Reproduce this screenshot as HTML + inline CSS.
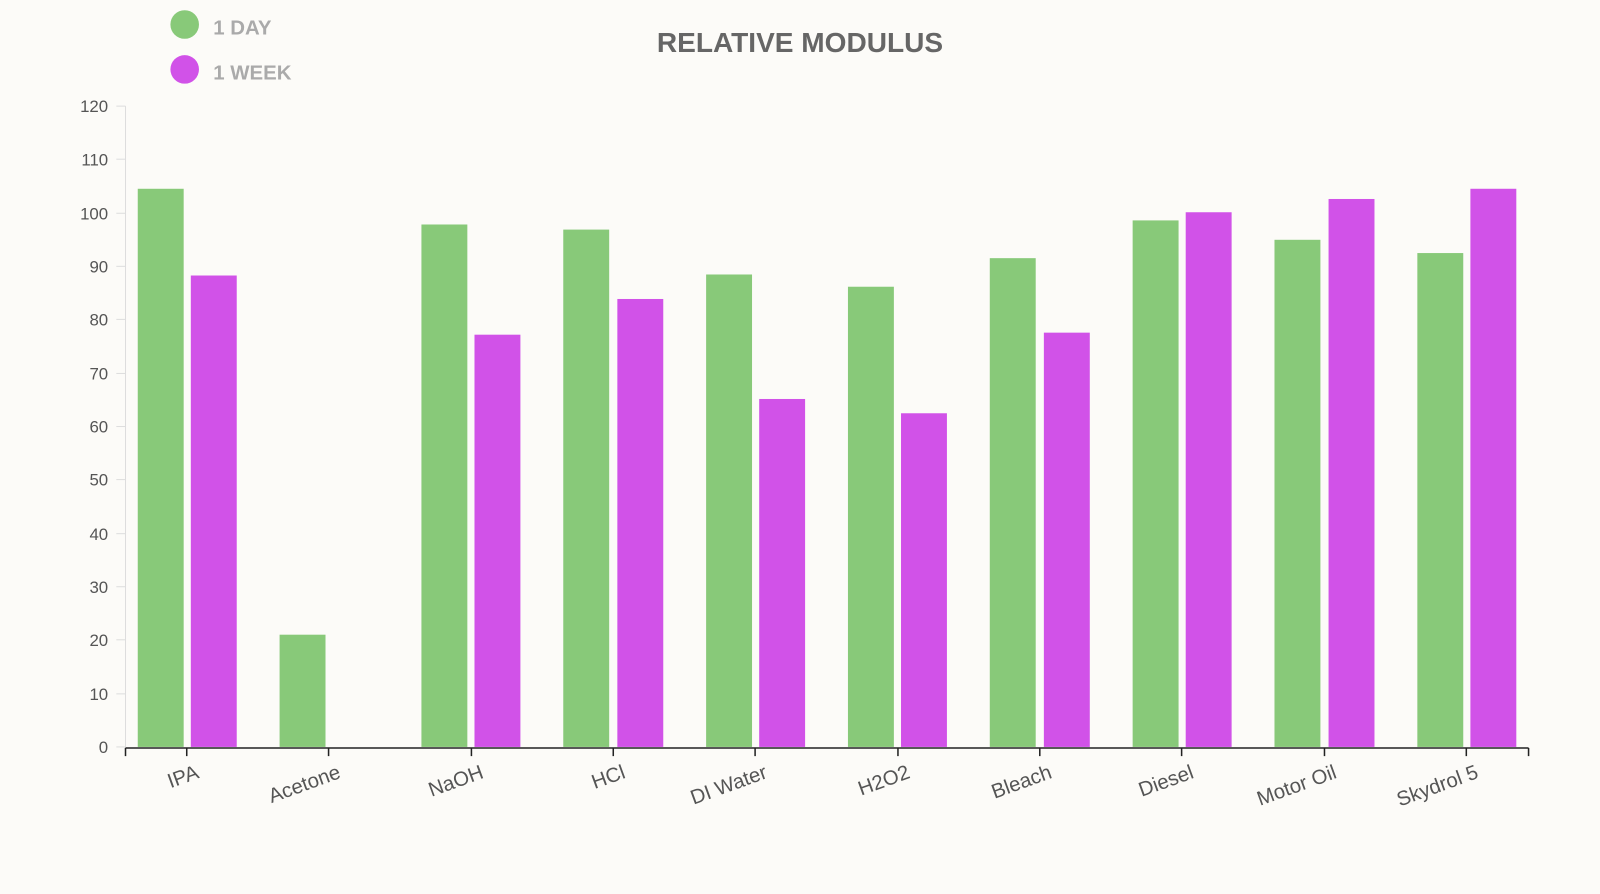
<!DOCTYPE html><html><head><style>body{margin:0;background:#fcfbf8}</style></head><body>
<svg width="1600" height="889" xmlns="http://www.w3.org/2000/svg" font-family="Liberation Sans, sans-serif">
<rect width="1600" height="889" fill="#fcfbf8"/>
<g transform="scale(1.0204)">
<text x="784" y="51" text-anchor="middle" font-size="27.5" font-weight="bold" fill="#666">RELATIVE MODULUS</text>
<circle cx="181" cy="24" r="14" fill="#88c979"/><text x="209" y="34" font-size="20" font-weight="bold" fill="#aaa">1 DAY</text>
<circle cx="181" cy="68" r="14" fill="#d152e8"/><text x="209" y="78" font-size="20" font-weight="bold" fill="#aaa">1 WEEK</text>
<line x1="123" y1="104" x2="123" y2="732" stroke="#ddd"/>
<g font-size="16.5" fill="#555" text-anchor="end">
<text x="106" y="738">0</text><text x="106" y="686">10</text><text x="106" y="633">20</text><text x="106" y="581">30</text><text x="106" y="529">40</text><text x="106" y="476">50</text><text x="106" y="424">60</text><text x="106" y="372">70</text><text x="106" y="319">80</text><text x="106" y="267">90</text><text x="106" y="215">100</text><text x="106" y="162">110</text><text x="106" y="110">120</text>
</g>
<g stroke="#ddd"><line x1="114" y1="732" x2="123" y2="732"/><line x1="114" y1="680" x2="123" y2="680"/><line x1="114" y1="627" x2="123" y2="627"/><line x1="114" y1="575" x2="123" y2="575"/><line x1="114" y1="523" x2="123" y2="523"/><line x1="114" y1="470" x2="123" y2="470"/><line x1="114" y1="418" x2="123" y2="418"/><line x1="114" y1="366" x2="123" y2="366"/><line x1="114" y1="313" x2="123" y2="313"/><line x1="114" y1="261" x2="123" y2="261"/><line x1="114" y1="209" x2="123" y2="209"/><line x1="114" y1="156" x2="123" y2="156"/><line x1="114" y1="104" x2="123" y2="104"/></g>
<g fill="#88c979">
<rect x="135" y="185" width="45" height="547"/><rect x="274" y="622" width="45" height="110"/><rect x="413" y="220" width="45" height="512"/><rect x="552" y="225" width="45" height="507"/><rect x="692" y="269" width="45" height="463"/><rect x="831" y="281" width="45" height="451"/><rect x="970" y="253" width="45" height="479"/><rect x="1110" y="216" width="45" height="516"/><rect x="1249" y="235" width="45" height="497"/><rect x="1389" y="248" width="45" height="484"/>
</g>
<g fill="#d152e8">
<rect x="187" y="270" width="45" height="462"/><rect x="465" y="328" width="45" height="404"/><rect x="605" y="293" width="45" height="439"/><rect x="744" y="391" width="45" height="341"/><rect x="883" y="405" width="45" height="327"/><rect x="1023" y="326" width="45" height="406"/><rect x="1162" y="208" width="45" height="524"/><rect x="1302" y="195" width="45" height="537"/><rect x="1441" y="185" width="45" height="547"/>
</g>
<line x1="123" y1="733" x2="1498" y2="733" stroke="#222" stroke-width="1.5"/>
<g stroke="#222" stroke-width="1.5"><line x1="123" y1="733" x2="123" y2="741"/><line x1="1498" y1="733" x2="1498" y2="741"/>
<line x1="183" y1="733" x2="183" y2="741"/><line x1="322" y1="733" x2="322" y2="741"/><line x1="462" y1="733" x2="462" y2="741"/><line x1="601" y1="733" x2="601" y2="741"/><line x1="740" y1="733" x2="740" y2="741"/><line x1="880" y1="733" x2="880" y2="741"/><line x1="1019" y1="733" x2="1019" y2="741"/><line x1="1158" y1="733" x2="1158" y2="741"/><line x1="1298" y1="733" x2="1298" y2="741"/><line x1="1437" y1="733" x2="1437" y2="741"/></g>
<g font-size="20" fill="#555" text-anchor="end">
<text transform="translate(196,762) rotate(-20)">IPA</text>
<text transform="translate(335,762) rotate(-20)">Acetone</text>
<text transform="translate(475,762) rotate(-20)">NaOH</text>
<text transform="translate(614,762) rotate(-20)">HCl</text>
<text transform="translate(753,762) rotate(-20)">DI Water</text>
<text transform="translate(893,762) rotate(-20)">H2O2</text>
<text transform="translate(1032,762) rotate(-20)">Bleach</text>
<text transform="translate(1171,762) rotate(-20)">Diesel</text>
<text transform="translate(1311,762) rotate(-20)">Motor Oil</text>
<text transform="translate(1450,762) rotate(-20)">Skydrol 5</text>
</g>
</g>
</svg></body></html>
